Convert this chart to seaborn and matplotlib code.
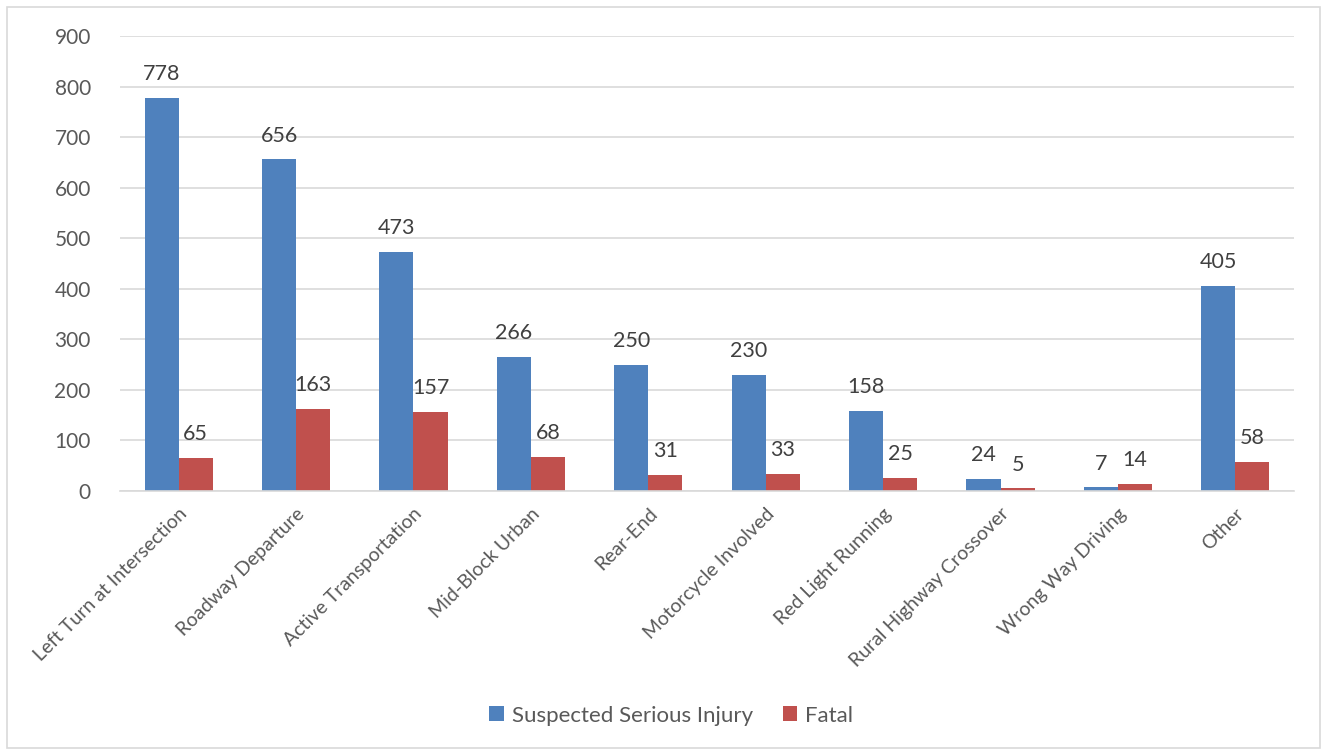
import matplotlib
matplotlib.use("Agg")
import matplotlib.pyplot as plt
import seaborn as sns
import pandas as pd
from matplotlib.patches import Rectangle

categories = ["Left Turn at Intersection", "Roadway Departure", "Active Transportation",
              "Mid-Block Urban", "Rear-End", "Motorcycle Involved", "Red Light Running",
              "Rural Highway Crossover", "Wrong Way Driving", "Other"]
serious_injury = [778, 656, 473, 266, 250, 230, 158, 24, 7, 405]
fatal = [65, 163, 157, 68, 31, 33, 25, 5, 14, 58]
series_names = ["Suspected Serious Injury", "Fatal"]
yticks = [0, 100, 200, 300, 400, 500, 600, 700, 800, 900]

df = pd.DataFrame({
    "Category": categories * 2,
    "Series": [series_names[0]] * len(categories) + [series_names[1]] * len(categories),
    "Value": serious_injury + fatal,
})

sns.set_theme(style="white")
plt.rcParams["font.family"] = ["Lato", "DejaVu Sans"]
text_color = "#595959"

fig = plt.figure(figsize=(13.21, 7.51), dpi=100)
ax = fig.add_axes([0.0908, 0.3462, 0.8888, 0.6058])

palette = {series_names[0]: "#4F81BD", series_names[1]: "#C0504D"}
sns.barplot(data=df, x="Category", y="Value", hue="Series", palette=palette,
            width=0.58, saturation=1, ax=ax, legend=True, edgecolor="none")

ax.set_ylim(0, 900)
ax.set_yticks(yticks)
ax.set_yticklabels([str(t) for t in yticks], fontsize=15, color=text_color)
ax.yaxis.grid(True, color="#D9D9D9", linewidth=1.2)
ax.set_axisbelow(True)
for s in ["top", "right", "left"]:
    ax.spines[s].set_visible(False)
ax.spines["bottom"].set_color("#D9D9D9")
ax.spines["bottom"].set_linewidth(1.2)
ax.tick_params(axis="y", length=0, pad=21)
ax.set_xlim(-0.5, len(categories) - 0.5)
ax.set_xticks(range(len(categories)))
ax.set_xticklabels(categories, rotation=45, ha="right", rotation_mode="anchor",
                   fontsize=14, color=text_color)
ax.tick_params(axis="x", length=0, pad=10)
ax.set_xlabel("")
ax.set_ylabel("")

for cont in ax.containers:
    ax.bar_label(cont, fmt="%d", padding=10, fontsize=15.5, color="#404040")

handles, labels = ax.get_legend_handles_labels()
ax.get_legend().remove()
fig.legend(handles, labels, loc="center", bbox_to_anchor=(0.508, 0.047), ncol=2,
           frameon=False, fontsize=16, labelcolor=text_color, handlelength=0.65,
           handleheight=0.65, handletextpad=0.35, columnspacing=1.35)

fig.patches.append(Rectangle((7 / 1321, 3 / 751), 1 - 8 / 1321, 1 - 10 / 751,
                             transform=fig.transFigure, fill=False,
                             edgecolor="#D9D9D9", linewidth=1.2))

fig.savefig("out.png", dpi=100, facecolor="white")
